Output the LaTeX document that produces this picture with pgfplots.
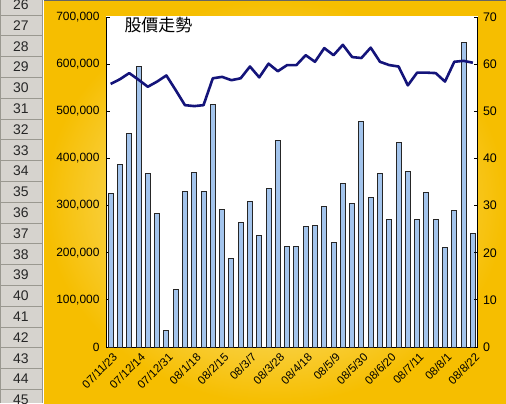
\documentclass[border=0pt]{standalone}
\usepackage{fontspec}
\setmainfont{Liberation Sans}
\newfontfamily\cjk{Noto Sans CJK TC}
\usepackage{pgfplots}
\pgfplotsset{compat=1.18}
\definecolor{barfill}{HTML}{A3C4EC}
\definecolor{lineblue}{HTML}{14147A}
\definecolor{goldA}{HTML}{F6BE00}
\definecolor{goldB}{HTML}{FFF6C8}
\definecolor{rowgray}{HTML}{D6D3CE}
\definecolor{rowline}{HTML}{9A9890}
\begin{document}
\begin{tikzpicture}[x=1bp,y=1bp]
\useasboundingbox (0,0) rectangle (506,403);
\clip (0,0) rectangle (506,403);
% spreadsheet row header strip
\fill[rowgray] (0,0) rectangle (43,403);
\draw[rowline, line width=1bp] (42.5,0) -- (42.5,403);
\draw[rowline, line width=1bp] (0.5,0) -- (0.5,403);
\foreach \i in {0,...,18} {\draw[rowline, line width=0.8bp] (0,{403-15-20.8*\i}) -- (43,{403-15-20.8*\i});}
\foreach \n [count=\i from 0] in {26,...,45} {\node[font=\fontsize{14}{14}\selectfont, text=black!85] at (21,{403-4.6-20.8*\i}) {\n};}
% chart area background
\shade[inner color=goldB, outer color=goldA] (44,0) rectangle (506,403);
\draw[black!60, line width=1.5bp] (44,402.5) -- (506,402.5);
% plot area
\fill[white] (106,56) rectangle (477.5,386.5);
\begin{axis}[
  at={(106bp,56bp)}, anchor=south west, scale only axis,
  width=371.5bp, height=330bp,
  xmin=-0.5, xmax=39.5, ymin=0, ymax=700000,
  axis y line*=left, axis x line*=bottom,
  axis line style={black, line width=1bp},
  ybar, bar width=5bp,
  xtick={0,3,...,39},
  xticklabels={07/11/23,07/12/14,07/12/31,08/1/18,08/2/15,08/3/7,08/3/28,08/4/18,08/5/9,08/5/30,08/6/20,08/7/11,08/8/1,08/8/22},
  x tick label style={rotate=45, anchor=north east, font=\fontsize{11.5}{11.5}\selectfont, inner sep=0.5bp, yshift=-4bp, xshift=-2bp},
  xtick style={draw=none},
  ytick={0,100000,...,700000},
  scaled y ticks=false,
  /pgf/number format/assume math mode=true,
  yticklabel style={/pgf/number format/fixed, /pgf/number format/1000 sep={,}, font=\fontsize{12}{12}\selectfont, xshift=-3bp},
  tick align=inside, major tick length=4bp,
  ytick style={black, line width=0.8bp},
  clip=false,
]
\addplot[fill=barfill, draw=black!85, line width=1bp] coordinates {
(0,325000) (1,388000) (2,452000) (3,594000) (4,369000) (5,284000) (6,36000) (7,121000)
(8,330000) (9,371000) (10,330000) (11,515000) (12,292000) (13,188000) (14,264000) (15,308000)
(16,236000) (17,337000) (18,437000) (19,214000) (20,214000) (21,255000) (22,257000) (23,299000)
(24,221000) (25,346000) (26,305000) (27,478000) (28,318000) (29,368000) (30,271000) (31,434000)
(32,372000) (33,271000) (34,327000) (35,271000) (36,211000) (37,290000) (38,645000) (39,240000)
};
\end{axis}
\begin{axis}[
  at={(106bp,56bp)}, anchor=south west, scale only axis,
  width=371.5bp, height=330bp,
  xmin=-0.5, xmax=39.5, ymin=0, ymax=70,
  axis y line*=right, axis x line=none,
  axis line style={black, line width=1bp},
  ytick={0,10,...,70},
  /pgf/number format/assume math mode=true,
  yticklabel style={font=\fontsize{12.5}{12.5}\selectfont, xshift=2bp},
  tick align=inside, major tick length=4bp,
  ytick style={black, line width=0.8bp},
  clip=false,
]
\addplot[lineblue, line width=2.6bp, mark=none, line join=round] coordinates {
(0,55.8) (1,56.8) (2,58.1) (3,56.7) (4,55.2) (5,56.3) (6,57.6) (7,54.5)
(8,51.3) (9,51.1) (10,51.3) (11,57.0) (12,57.3) (13,56.6) (14,57.0) (15,59.5)
(16,57.2) (17,60.1) (18,58.5) (19,59.8) (20,59.8) (21,61.9) (22,60.5) (23,63.4)
(24,61.9) (25,64.1) (26,61.5) (27,61.3) (28,63.5) (29,60.5) (30,59.8) (31,59.5)
(32,55.5) (33,58.2) (34,58.2) (35,58.1) (36,56.3) (37,60.5) (38,60.7) (39,60.3)
};
\end{axis}
\node[font=\cjk\fontsize{17}{17}\selectfont, anchor=west] at (121,378) {股價走勢};
\end{tikzpicture}
\end{document}
